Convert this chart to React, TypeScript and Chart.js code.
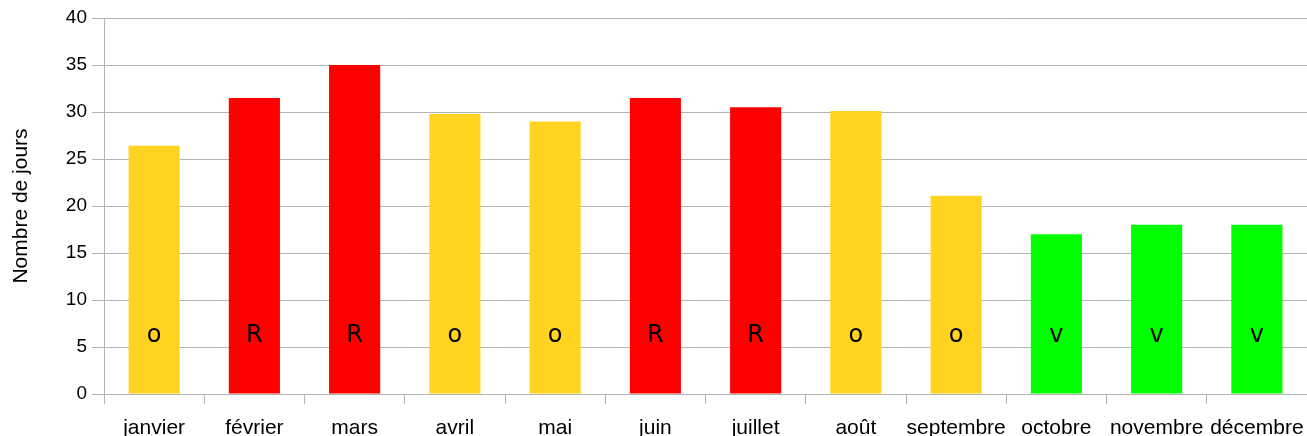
import React, { useEffect, useRef } from "react";
import { Chart, registerables } from "chart.js";

Chart.register(...registerables);

const months = ["janvier", "février", "mars", "avril", "mai", "juin", "juillet", "août", "septembre", "octobre", "novembre", "décembre"];
const days = [26.4, 31.5, 35, 29.8, 29.0, 31.5, 30.5, 30.1, 21.1, 17.0, 18.0, 18.0];
const codes = ["o", "R", "R", "o", "o", "R", "R", "o", "o", "v", "v", "v"];
const codeColors: Record<string, string> = { o: "#FFD320", R: "#FF0000", v: "#00FF00" };
const yTicks = [0, 5, 10, 15, 20, 25, 30, 35, 40];
const yTitle = "Nombre de jours";

const codeLabelPlugin = {
  id: "codeLabels",
  afterDatasetsDraw(chart: any) {
    const ctx = chart.ctx;
    const meta = chart.getDatasetMeta(0);
    const y = chart.scales.y.getPixelForValue(6.2);
    ctx.save();
    ctx.fillStyle = "#000";
    ctx.font = "24px 'DejaVu Sans'";
    ctx.textAlign = "center";
    ctx.textBaseline = "middle";
    meta.data.forEach((bar: any, i: number) => {
      ctx.fillText(codes[i], bar.x, y);
    });
    ctx.restore();
  },
};

export default function App() {
  const ref = useRef<HTMLCanvasElement>(null);
  useEffect(() => {
    const chart = new Chart(ref.current!, {
      type: "bar",
      data: {
        labels: months,
        datasets: [
          {
            data: days,
            backgroundColor: codes.map((c) => codeColors[c]),
            barPercentage: 0.51,
            categoryPercentage: 1,
          },
        ],
      },
      options: {
        animation: false,
        responsive: false,
        maintainAspectRatio: false,
        layout: { padding: { top: 18, right: 0, left: 0, bottom: 0 } },
        plugins: { legend: { display: false }, tooltip: { enabled: false } },
        scales: {
          x: {
            grid: { display: true, drawOnChartArea: false, offset: true, tickLength: 10, color: "#b3b3b3" },
            border: { display: false },
            ticks: { color: "#000", font: { family: "'Liberation Sans'", size: 21 }, padding: 12, maxRotation: 0, autoSkip: false },
            afterFit: (s: any) => { s.height = 42; s.paddingLeft = 0; s.paddingRight = 0; },
          },
          y: {
            min: 0,
            max: 40,
            afterBuildTicks: (s: any) => { s.ticks = yTicks.map((v) => ({ value: v })); },
            grid: { color: "#b3b3b3", tickLength: 12 },
            border: { display: true, color: "#b3b3b3" },
            ticks: { color: "#000", font: { family: "'Liberation Sans'", size: 19 }, padding: 5 },
            title: { display: true, text: yTitle, color: "#000", font: { family: "'Liberation Sans'", size: 21 }, padding: { top: 9, bottom: 4 } },
            afterFit: (s: any) => { s.width = 104; s.paddingTop = 0; s.paddingBottom = 0; },
          },
        },
      },
      plugins: [codeLabelPlugin],
    });
    return () => chart.destroy();
  }, []);
  return (
    <div style={{ position: "fixed", left: 0, top: 0, width: 1307, height: 436, background: "#fff" }}>
      <canvas ref={ref} width={1307} height={436} style={{ display: "block" }} />
    </div>
  );
}
